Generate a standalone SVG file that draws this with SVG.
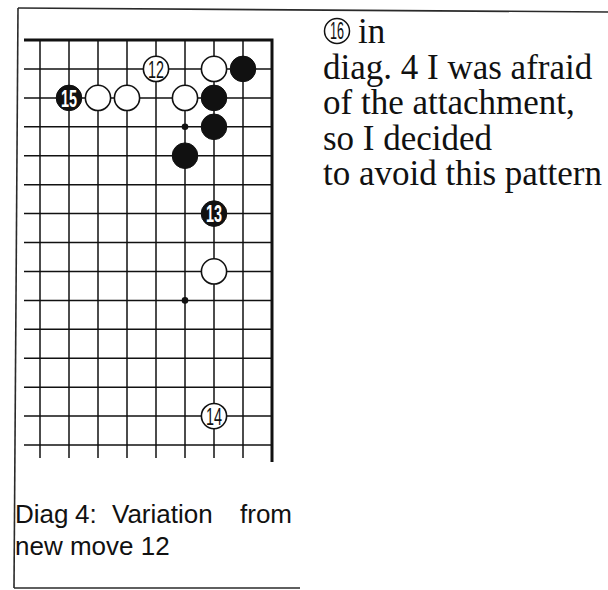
<svg xmlns="http://www.w3.org/2000/svg" width="608" height="590" viewBox="0 0 608 590">
<style>
.frame{stroke:#2a2a2a;stroke-width:1.6;fill:none}
.grid line{stroke:#111;stroke-width:1.5}
.edge{stroke:#111;stroke-width:3;fill:none}
.w{fill:#fff;stroke:#111;stroke-width:1.6}
.b{fill:#111;stroke:#111;stroke-width:1}
.dot{fill:#111}
.nw{font-family:"Liberation Sans",Arial,sans-serif;font-size:24px;fill:#111;text-anchor:middle}
.nb{font-family:"Liberation Sans",Arial,sans-serif;font-size:24px;font-weight:bold;fill:#fff;text-anchor:middle}
.serif{font-family:"Liberation Serif","Times New Roman",serif;font-size:35px;fill:#111}
.cap{font-family:"Liberation Sans",Arial,sans-serif;font-size:26px;fill:#111}
</style>
<g id="frame">
<line class="frame" x1="18" y1="8" x2="608" y2="12"/>
<line class="frame" x1="18" y1="8" x2="14" y2="588"/>
<line class="frame" x1="14" y1="588" x2="300" y2="588"/>
</g>
<g id="board" class="grid">
<line x1="24" y1="68.9" x2="272" y2="68.9"/>
<line x1="24" y1="97.9" x2="272" y2="97.9"/>
<line x1="24" y1="126.8" x2="272" y2="126.8"/>
<line x1="24" y1="155.7" x2="272" y2="155.7"/>
<line x1="24" y1="184.7" x2="272" y2="184.7"/>
<line x1="24" y1="213.6" x2="272" y2="213.6"/>
<line x1="24" y1="242.5" x2="272" y2="242.5"/>
<line x1="24" y1="271.4" x2="272" y2="271.4"/>
<line x1="24" y1="300.4" x2="272" y2="300.4"/>
<line x1="24" y1="329.3" x2="272" y2="329.3"/>
<line x1="24" y1="358.2" x2="272" y2="358.2"/>
<line x1="24" y1="387.2" x2="272" y2="387.2"/>
<line x1="24" y1="416.1" x2="272" y2="416.1"/>
<line x1="24" y1="445" x2="272" y2="445"/>
<line x1="40" y1="40" x2="40" y2="458"/>
<line x1="69" y1="40" x2="69" y2="458"/>
<line x1="98" y1="40" x2="98" y2="458"/>
<line x1="127" y1="40" x2="127" y2="458"/>
<line x1="156" y1="40" x2="156" y2="458"/>
<line x1="185" y1="40" x2="185" y2="458"/>
<line x1="214" y1="40" x2="214" y2="458"/>
<line x1="243" y1="40" x2="243" y2="458"/>
<polyline class="edge" points="24,40 272,40 272,462"/>
</g>
<g id="stones">
<g id="w12"><circle class="w" cx="156" cy="68.9" r="12.6"/><text class="nw" x="156" y="77.5" textLength="16" lengthAdjust="spacingAndGlyphs">12</text></g>
<g id="w-f2"><circle class="w" cx="214" cy="68.9" r="12.6"/></g>
<g id="b-g2"><circle class="b" cx="243" cy="68.9" r="12.8"/></g>
<g id="b15"><circle class="b" cx="69" cy="97.9" r="12.8"/><text class="nb" x="69" y="106.5" textLength="16" lengthAdjust="spacingAndGlyphs">15</text></g>
<g id="w-b3"><circle class="w" cx="98" cy="97.9" r="12.6"/></g>
<g id="w-c3"><circle class="w" cx="127" cy="97.9" r="12.6"/></g>
<g id="w-e3"><circle class="w" cx="185" cy="97.9" r="12.6"/></g>
<g id="b-f3"><circle class="b" cx="214" cy="97.9" r="12.8"/></g>
<g id="dot1"><circle class="dot" cx="185" cy="126.8" r="3.3"/></g>
<g id="b-f4"><circle class="b" cx="214" cy="126.8" r="12.8"/></g>
<g id="b-e5"><circle class="b" cx="185" cy="155.7" r="12.8"/></g>
<g id="b13"><circle class="b" cx="214" cy="213.6" r="12.8"/><text class="nb" x="214" y="222.2" textLength="16" lengthAdjust="spacingAndGlyphs">13</text></g>
<g id="w-f9"><circle class="w" cx="214" cy="271.4" r="12.6"/></g>
<g id="dot2"><circle class="dot" cx="185" cy="300.4" r="3.3"/></g>
<g id="w14"><circle class="w" cx="214" cy="416.1" r="12.6"/><text class="nw" x="214" y="424.7" textLength="16" lengthAdjust="spacingAndGlyphs">14</text></g>
</g>
<g id="comment">
<circle cx="337" cy="31" r="12.5" fill="none" stroke="#111" stroke-width="1.5"/>
<text class="nw" x="337" y="39" textLength="14" lengthAdjust="spacingAndGlyphs">16</text>
<text class="serif" x="358" y="43">in</text>
<text class="serif" x="323" y="78.5">diag. 4 I was afraid</text>
<text class="serif" x="323" y="114">of the attachment,</text>
<text class="serif" x="323" y="149.5">so I decided</text>
<text class="serif" x="323" y="185">to avoid this pattern</text>
</g>
<g id="caption">
<text class="cap" x="15" y="523">Diag</text>
<text class="cap" x="75" y="523">4:</text>
<text class="cap" x="112" y="523">Variation</text>
<text class="cap" x="292" y="523" text-anchor="end">from</text>
<text class="cap" x="15" y="555">new move 12</text>
</g>
</svg>
